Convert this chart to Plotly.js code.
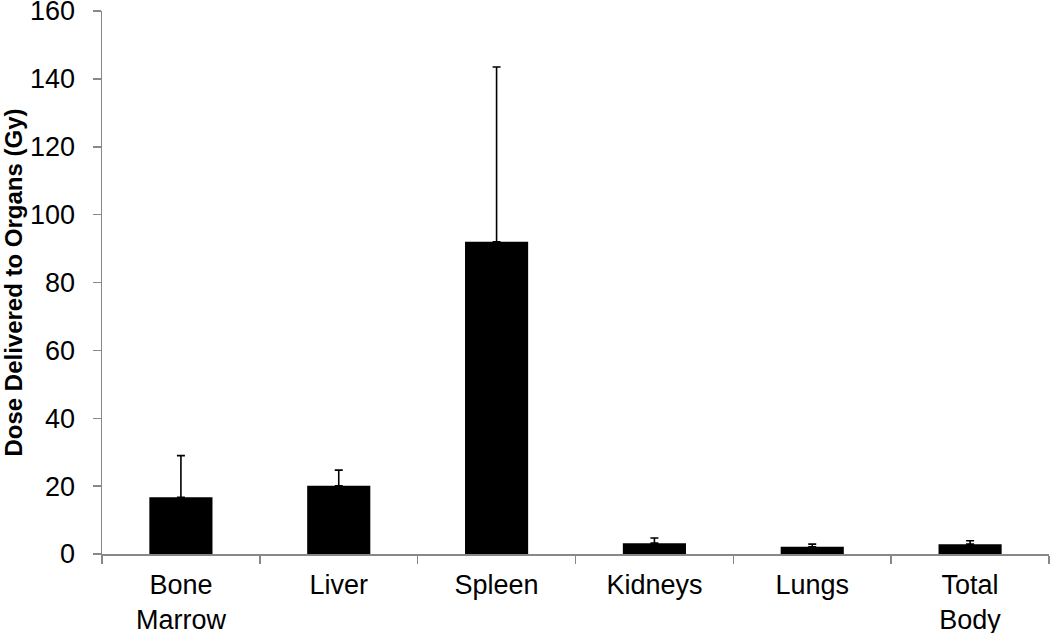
<!DOCTYPE html>
<html>
<head>
<meta charset="utf-8">
<script src="https://cdn.plot.ly/plotly-3.0.1.min.js"></script>
<style>html,body{margin:0;padding:0;background:#fff;}#chart{width:1050px;height:633px;}</style>
</head>
<body>
<div id="chart"></div>
<script>
var categories = ["Bone<br>Marrow", "Liver", "Spleen", "Kidneys", "Lungs", "Total<br>Body"];
var doseValues = [16.7, 20.1, 92.0, 3.2, 2.1, 2.9];
var errorPlus = [12.3, 4.6, 51.5, 1.5, 0.8, 1.0];
var yTickValues = [0, 20, 40, 60, 80, 100, 120, 140, 160];

var trace = {
  type: "bar",
  x: categories,
  y: doseValues,
  width: 0.4,
  marker: {color: "#000000", line: {color: "#000000", width: 0}},
  error_y: {
    type: "data",
    symmetric: false,
    array: errorPlus,
    arrayminus: doseValues.map(function(){return 0;}),
    color: "#000000",
    thickness: 1.6,
    width: 4
  },
  hoverinfo: "none"
};

var layout = {
  width: 1050,
  height: 633,
  margin: {l: 102, r: 1, t: 11, b: 79},
  paper_bgcolor: "#ffffff",
  plot_bgcolor: "#ffffff",
  showlegend: false,
  font: {family: "Liberation Sans, Arial, sans-serif", size: 27, color: "#000000"},
  xaxis: {
    type: "category",
    showgrid: false,
    zeroline: false,
    showline: true,
    linecolor: "#888888",
    linewidth: 1.5,
    ticks: "outside",
    tickson: "boundaries",
    ticklen: 8,
    tickcolor: "#888888",
    tickwidth: 1.5,
    ticklabelstandoff: 6,
    tickfont: {size: 27}
  },
  yaxis: {
    range: [0, 160],
    tickvals: yTickValues,
    ticktext: yTickValues.map(String),
    showgrid: false,
    zeroline: false,
    showline: true,
    linecolor: "#888888",
    linewidth: 1.5,
    ticks: "outside",
    ticklen: 8,
    tickcolor: "#888888",
    tickwidth: 1.5,
    ticklabelstandoff: 12,
    ticklabeloverflow: "allow",
    tickfont: {size: 27},
    title: {text: "<b>Dose Delivered to Organs (Gy)</b>", font: {size: 24}, standoff: 12}
  }
};

Plotly.newPlot("chart", [trace], layout, {displayModeBar: false, staticPlot: true});
</script>
</body>
</html>
